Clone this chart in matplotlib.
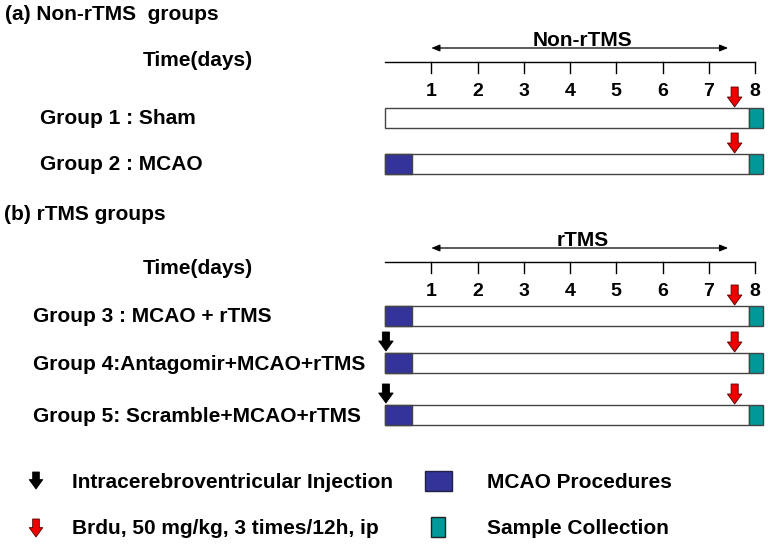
import matplotlib.pyplot as plt
from matplotlib.patches import Rectangle

plt.rcParams['font.family'] = ['Liberation Sans', 'DejaVu Sans']
plt.rcParams['font.weight'] = 'bold'

# timeline data (x in days)
days = [1, 2, 3, 4, 5, 6, 7, 8]
mcao_end = 0.58
sample_start = 7.87
sample_end = 8.17
brdu_day = 7.56
injection_day = 0.02
treat_start = 1.0
treat_end = 7.42

# panel (a)
groups_a = ["Group 1 : Sham", "Group 2 : MCAO"]
mcao_a = [False, True]
inject_a = [False, False]

# panel (b)
groups_b = ["Group 3 : MCAO + rTMS", "Group 4:Antagomir+MCAO+rTMS",
            "Group 5: Scramble+MCAO+rTMS"]
mcao_b = [True, True, True]
inject_b = [False, True, True]

legend_labels = ["Intracerebroventricular Injection", "Brdu, 50 mg/kg, 3 times/12h, ip",
                 "MCAO Procedures", "Sample Collection"]

blue = "#333399"
teal = "#009999"
red = "#ee0000"
fs = 15

# 1 day = 46.25 px, day 0 at x = 385 px; y axis in pixels
px_day = 46.25
x0 = 385
fig = plt.figure(figsize=(7.68, 5.45), dpi=100)
ax = fig.add_axes([0, 0, 1, 1])
ax.set_xlim(-x0 / px_day, (768 - x0) / px_day)
ax.set_ylim(545, 0)
ax.axis('off')
dpx = 1 / px_day  # one pixel in days


def down_arrow(x, y_tail, y_tip, color, scale=16):
    ax.annotate("", xy=(x, y_tip), xytext=(x, y_tail),
                arrowprops=dict(arrowstyle="simple,head_width=0.65,head_length=0.45,tail_width=0.32",
                                fc=color, ec="#550000" if color == red else "black",
                                lw=0.6, mutation_scale=scale, shrinkA=0, shrinkB=0))


def timeline(y_line, label, y_label):
    ax.plot([0, days[-1]], [y_line, y_line], color="black", lw=1)
    for d in days:
        ax.plot([d, d], [y_line, y_line + 11], color="black", lw=1)
        ax.text(d, y_line + 30, str(d), ha="center", va="center", fontsize=14)
    ax.annotate("", xy=(treat_start, y_line - 14), xytext=(treat_end, y_line - 14),
                arrowprops=dict(arrowstyle="<|-|>,head_length=0.5,head_width=0.2",
                                color="black", lw=0.9, shrinkA=0, shrinkB=0))
    ax.text((treat_start + treat_end) / 2 + 0.07, y_line - 21, label, ha="center",
            va="center", fontsize=fs)
    ax.text(-187 * dpx, y_label, "Time(days)", ha="center", va="center", fontsize=fs)


def group_bar(y_top, label, x_label, mcao, inject):
    h = 20
    ax.add_patch(Rectangle((0, y_top), sample_start, h, fc="white", ec="#444444", lw=1))
    if mcao:
        ax.add_patch(Rectangle((0, y_top), mcao_end, h, fc=blue, ec="#444444", lw=1))
    ax.add_patch(Rectangle((sample_start, y_top), sample_end - sample_start, h,
                           fc=teal, ec="#444444", lw=1))
    down_arrow(brdu_day, y_top - 21, y_top - 1, red)
    if inject:
        down_arrow(injection_day, y_top - 21, y_top - 2, "black")
    ax.text(x_label, y_top + h / 2 + 1, label, ha="left", va="center", fontsize=fs)


# panel (a)
ax.text(-380 * dpx, 15, "(a) Non-rTMS  groups", ha="left", va="center", fontsize=fs)
timeline(62, "Non-rTMS", 60)
for i, (g, m, inj) in enumerate(zip(groups_a, mcao_a, inject_a)):
    group_bar(108 + 46 * i, g, -345 * dpx, m, inj)

# panel (b)
ax.text(-381 * dpx, 215, "(b) rTMS groups", ha="left", va="center", fontsize=fs)
timeline(262, "rTMS", 268)
for i, (g, m, inj) in enumerate(zip(groups_b, mcao_b, inject_b)):
    group_bar(306 + [0, 47, 99][i], g, -352 * dpx, m, inj)

# legend
lx = -x0 * dpx
down_arrow(lx + 36 * dpx, 472, 489, "black", scale=15)
ax.text(lx + 72 * dpx, 483, legend_labels[0], ha="left", va="center", fontsize=fs)
ax.add_patch(Rectangle((lx + 425 * dpx, 471), 27 * dpx, 20, fc=blue, ec="#222244", lw=1))
ax.text(lx + 487 * dpx, 482, legend_labels[2], ha="left", va="center", fontsize=fs)
down_arrow(lx + 36 * dpx, 519, 537, red, scale=15)
ax.text(lx + 72 * dpx, 529, legend_labels[1], ha="left", va="center", fontsize=fs)
ax.add_patch(Rectangle((lx + 431 * dpx, 517), 14 * dpx, 20, fc=teal, ec="#222222", lw=1))
ax.text(lx + 487 * dpx, 528, legend_labels[3], ha="left", va="center", fontsize=fs)

fig.savefig("out.png", dpi=100)
